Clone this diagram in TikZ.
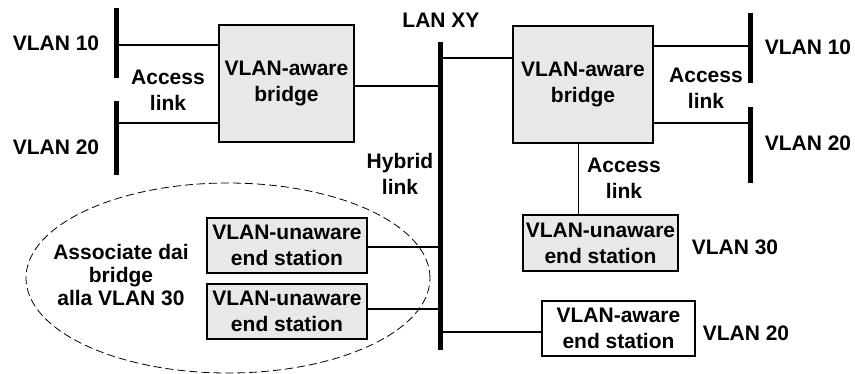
\documentclass[tikz,border=0pt]{standalone}
\usepackage{fontspec}
\setmainfont{Liberation Sans}
\usepackage{tikz}

\tikzset{
  bus/.style={black, line width=5pt},
  wire/.style={black, line width=1.6pt},
  thinwire/.style={black, line width=0.9pt},
  box/.style={draw, rectangle, line width=1.6pt, inner sep=0pt, align=center, fill=white},
  graybox/.style={box, fill=gray!18},
  lbl/.style={align=center}
}

\begin{document}
\begin{tikzpicture}[x=1pt, y=-1pt,
  every node/.style={font=\fontsize{21}{26}\selectfont\bfseries}]
\useasboundingbox (0,0) rectangle (855,373);

% buses
\coordinate (lan top) at (440,42);
\coordinate (lan bot) at (440,350);
\draw[bus] (lan top) -- (lan bot);
\draw[bus] (116,8) coordinate (l10 top) -- (116,78) coordinate (l10 bot);
\draw[bus] (116,101) coordinate (l20 top) -- (116,175) coordinate (l20 bot);
\draw[bus] (750,13) coordinate (r10 top) -- (750,83) coordinate (r10 bot);
\draw[bus] (750,107) coordinate (r20 top) -- (750,183) coordinate (r20 bot);

% boxes
\node[graybox, minimum width=135, minimum height=117] (lbridge) at (286.5,83.5) {VLAN-aware\\bridge};
\node[graybox, minimum width=140, minimum height=117] (rbridge) at (583,84.5) {VLAN-aware\\bridge};
\node[graybox, minimum width=155, minimum height=56] (rstation) at (600.5,243) {VLAN-unaware\\end station};
\node[box, minimum width=153, minimum height=55] (awstation) at (618.5,328.5) {VLAN-aware\\end station};
\node[graybox, minimum width=160, minimum height=55] (lstation1) at (287,245.5) {VLAN-unaware\\end station};
\node[graybox, minimum width=160, minimum height=55] (lstation2) at (287,311.5) {VLAN-unaware\\end station};

% links
\coordinate (a10) at (116,45);
\coordinate (a20) at (116,123);
\draw[wire] (a10) -- (a10 -| lbridge.west);
\draw[wire] (a20) -- (a20 -| lbridge.west);
\coordinate (b10) at (750,46);
\coordinate (b20) at (750,123);
\draw[wire] (b10 -| rbridge.east) -- (b10);
\draw[wire] (b20 -| rbridge.east) -- (b20);
\coordinate (hl) at (440,86);
\coordinate (hr) at (440,58);
\draw[wire] (lbridge.east |- hl) -- (hl);
\draw[wire] (hr) -- (hr -| rbridge.west);
\coordinate (acc) at (578,0);
\draw[thinwire] (acc |- rbridge.south) -- (acc |- rstation.north);
\coordinate (s1) at (440,247);
\coordinate (s2) at (440,309);
\coordinate (s3) at (440,332);
\draw[wire] (lstation1.east |- s1) -- (s1);
\draw[wire] (lstation2.east |- s2) -- (s2);
\draw[wire] (s3) -- (s3 -| awstation.west);

\draw[line width=0.8pt, dash pattern=on 8pt off 4pt] (228,278) ellipse (202pt and 95pt);

% labels
\node[lbl] (lanxy) at (441,20) {LAN XY};
\node[lbl] (vl10) at (56,43) {VLAN 10};
\node[lbl] (vl20) at (56,147) {VLAN 20};
\node[lbl] (vr10) at (808,47) {VLAN 10};
\node[lbl] (vr20) at (808,143) {VLAN 20};
\node[lbl] (vr30) at (735,247) {VLAN 30};
\node[lbl] (vaw20) at (746,333) {VLAN 20};
\node[lbl] (accl) at (168,90) {Access\\link};
\node[lbl] (accr) at (706,88) {Access\\link};
\node[lbl] (accb) at (624,178) {Access\\link};
\node[lbl] (hyb) at (400,174) {Hybrid\\link};
\node[lbl, font=\fontsize{21}{23}\selectfont\bfseries] (assoc) at (121,275) {Associate dai\\bridge\\alla VLAN 30};
\end{tikzpicture}
\end{document}
